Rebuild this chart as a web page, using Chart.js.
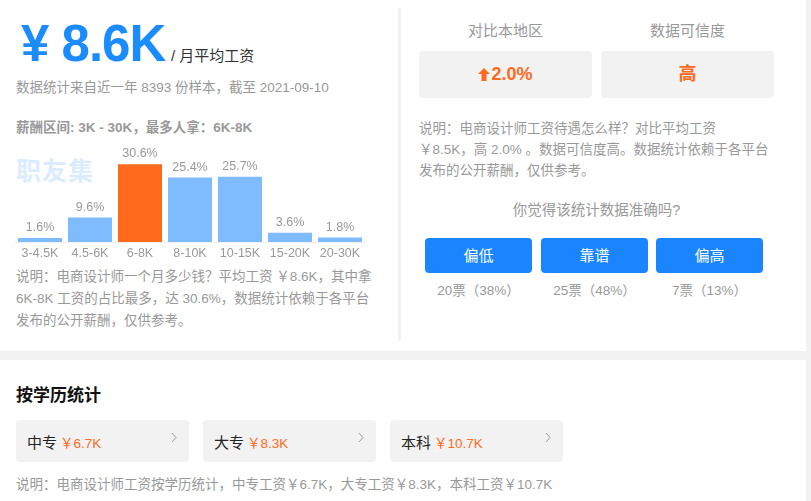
<!DOCTYPE html>
<html>
<head>
<meta charset="utf-8">
<script src="https://cdn.jsdelivr.net/npm/chart.js@4.4.1/dist/chart.umd.min.js"></script>
<style>
  html, body { margin: 0; padding: 0; }
  body {
    width: 811px; height: 501px; overflow: hidden; position: relative;
    background: #f2f2f2;
    font-family: "Liberation Sans", Arial, "Noto Sans CJK SC", sans-serif;
    color: #999;
  }
  .abs { position: absolute; white-space: nowrap; }
  #top { position: absolute; left: 0; top: 0; width: 806px; height: 351px; background: #fff; }
  #bottom { position: absolute; left: 0; top: 360px; width: 806px; height: 141px; background: #fff; }
  #divider { position: absolute; left: 398px; top: 8px; width: 3px; height: 333px; background: #f2f2f2; }
  .big { left: 21px; top: 14px; font-size: 51px; font-weight: bold; color: #1a8cff; letter-spacing: -1px; }
  .unit { left: 171px; top: 44px; font-size: 15px; color: #333; }
  .small { font-size: 13.5px; color: #999; }
  .desc { font-size: 13.5px; color: #999; line-height: 22px; }
  .box { position: absolute; top: 51px; width: 173px; height: 47px; background: #f2f2f2; border-radius: 4px;
         color: #ff6a1d; font-weight: bold; font-size: 18px; text-align: center; line-height: 47px; }
  .head { position: absolute; top: 19px; width: 173px; text-align: center; font-size: 15px; color: #999; }
  .btn { position: absolute; top: 238px; width: 107px; height: 35px; background: #1a85ff; border-radius: 4px;
         color: #fff; font-size: 15px; text-align: center; line-height: 35px; }
  .vote { position: absolute; top: 279px; width: 107px; text-align: center; font-size: 13.5px; color: #999; }
  .card { position: absolute; top: 420px; width: 173px; height: 42px; background: #f2f2f2; border-radius: 4px; }
  .card .n { position: absolute; left: 11px; top: 11px; font-size: 15px; color: #222; }
  .card .v { position: absolute; left: 44px; top: 12px; font-size: 13.5px; color: #ff6a1d; }
  .card svg { position: absolute; right: 12px; top: 12px; }
  #wm { left: 16px; top: 151px; font-size: 25px; font-weight: bold; color: #dcecff; letter-spacing: 1px; }
  #chartBox { position: absolute; left: 15px; top: 141px; width: 350px; height: 124px; }
</style>
</head>
<body>
<div id="top"></div>
<div id="bottom"></div>
<div id="divider"></div>

<div class="abs big">¥ 8.6K</div>
<div class="abs unit">/ 月平均工资</div>
<div class="abs small" style="left:16px; top:76px;">数据统计来自近一年 8393 份样本，截至 2021-09-10</div>
<div class="abs small" style="left:16px; top:116px; font-weight:bold;">薪酬区间: 3K - 30K，最多人拿：6K-8K</div>

<div class="abs" id="wm">职友集</div>
<div id="chartBox"><canvas id="salaryChart"></canvas></div>

<div class="abs desc" style="left:16px; top:266px;">说明：电商设计师一个月多少钱？平均工资 ￥8.6K，其中拿<br>6K-8K 工资的占比最多，达 30.6%，数据统计依赖于各平台<br>发布的公开薪酬，仅供参考。</div>

<div class="head" style="left:419px;">对比本地区</div>
<div class="head" style="left:601px;">数据可信度</div>
<div class="box" style="left:419px;"><svg width="12" height="13" viewBox="0 0 12 13" style="vertical-align:-1px;margin-right:1px"><path d="M6 0 L12 6 L8.5 6 L8.5 13 L3.5 13 L3.5 6 L0 6 Z" fill="#ff6a1d"/></svg>2.0%</div>
<div class="box" style="left:601px;">高</div>

<div class="abs desc" style="left:419px; top:118px; line-height:21px;">说明：电商设计师工资待遇怎么样？对比平均工资<br>￥8.5K，高 2.0% 。数据可信度高。数据统计依赖于各平台<br>发布的公开薪酬，仅供参考。</div>

<div class="abs" style="left:419px; width:355px; top:198px; text-align:center; font-size:14.5px; color:#999;">你觉得该统计数据准确吗?</div>

<div class="btn" style="left:425px;">偏低</div>
<div class="btn" style="left:541px;">靠谱</div>
<div class="btn" style="left:656px;">偏高</div>
<div class="vote" style="left:425px;">20票（38%）</div>
<div class="vote" style="left:541px;">25票（48%）</div>
<div class="vote" style="left:656px;">7票（13%）</div>

<div class="abs" style="left:16px; top:381px; font-size:17px; font-weight:bold; color:#111;">按学历统计</div>
<div class="card" style="left:16px;"><span class="n">中专</span><span class="v">￥6.7K</span><svg width="6" height="11"><polyline points="1,1 5,5.5 1,10" fill="none" stroke="#999" stroke-width="1"/></svg></div>
<div class="card" style="left:203px;"><span class="n">大专</span><span class="v">￥8.3K</span><svg width="6" height="11"><polyline points="1,1 5,5.5 1,10" fill="none" stroke="#999" stroke-width="1"/></svg></div>
<div class="card" style="left:390px;"><span class="n">本科</span><span class="v">￥10.7K</span><svg width="6" height="11"><polyline points="1,1 5,5.5 1,10" fill="none" stroke="#999" stroke-width="1"/></svg></div>
<div class="abs small" style="left:16px; top:473px;">说明：电商设计师工资按学历统计，中专工资￥6.7K，大专工资￥8.3K，本科工资￥10.7K</div>

<script>
// salary ranges and share of samples (%)
var ranges = ["3-4.5K", "4.5-6K", "6-8K", "8-10K", "10-15K", "15-20K", "20-30K"];
var shares = [1.6, 9.6, 30.6, 25.4, 25.7, 3.6, 1.8];
var topRange = "6-8K";

var blue = '#7fbbff';
var orange = '#ff6a1d';

// value labels above each bar
var valueLabels = {
    id: 'valueLabels',
    afterDatasetsDraw: function (chart) {
        var ctx = chart.ctx;
        var meta = chart.getDatasetMeta(0);
        ctx.save();
        ctx.font = '12.5px "Liberation Sans", Arial, sans-serif';
        ctx.fillStyle = '#999';
        ctx.textAlign = 'center';
        ctx.textBaseline = 'bottom';
        meta.data.forEach(function (bar, i) {
            ctx.fillText(shares[i].toFixed(1) + '%', bar.x, bar.y - 4);
        });
        ctx.restore();
    }
};

var ctx = document.getElementById('salaryChart').getContext('2d');
new Chart(ctx, {
    type: 'bar',
    data: {
        labels: ranges,
        datasets: [{
            data: shares,
            backgroundColor: ranges.map(function (r) { return r === topRange ? orange : blue; }),
            barPercentage: 0.88,
            categoryPercentage: 1.0
        }]
    },
    options: {
        responsive: true,
        maintainAspectRatio: false,
        animation: false,
        layout: { padding: { top: 12, left: 0, right: 0, bottom: 0 } },
        plugins: { legend: { display: false }, tooltip: { enabled: false } },
        scales: {
            x: {
                grid: { display: false, drawTicks: false },
                border: { display: true, color: '#f0f0f0', width: 1 },
                ticks: { color: '#999', padding: 4, font: { size: 12.5, family: '"Liberation Sans", Arial, sans-serif' } }
            },
            y: {
                display: false,
                min: 0,
                max: 35
            }
        }
    },
    plugins: [valueLabels]
});
</script>
</body>
</html>
